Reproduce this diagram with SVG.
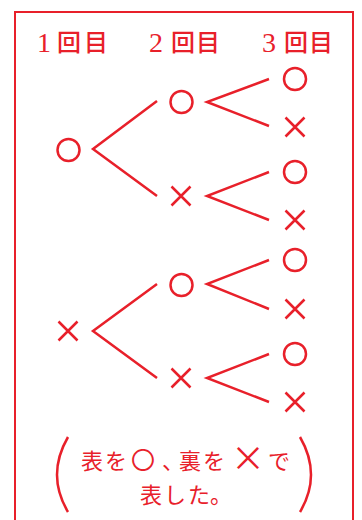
<svg xmlns="http://www.w3.org/2000/svg" width="362" height="520" viewBox="0 0 362 520">
<style>
.s{fill:none;stroke:#e8202a;stroke-width:2.5;stroke-linecap:butt}
.d{font-family:"Liberation Serif",serif;font-size:28px;fill:#e8202a}
.h{font-family:"Noto Sans CJK JP",sans-serif;font-size:24px;font-weight:500;fill:#e8202a}
.t{font-family:"Noto Sans CJK JP",sans-serif;font-size:22px;fill:#e8202a}
</style>
<defs>
<circle id="o" r="11" class="s"/>
<path id="x" d="M-9.5,-9.5L9.5,9.5M9.5,-9.5L-9.5,9.5" class="s"/>
</defs>
<rect x="15" y="12" width="338" height="530" fill="none" stroke="#e8202a" stroke-width="2"/>
<g id="headers">
<text class="d" x="37" y="52">1</text><text class="h" x="57 84" y="51">回目</text>
<text class="d" x="149" y="52">2</text><text class="h" x="171 196" y="51">回目</text>
<text class="d" x="262" y="52">3</text><text class="h" x="284 309" y="51">回目</text>
</g>
<g id="connectors">
<path class="s" d="M157,101L93,149L157,196"/>
<path class="s" d="M157,284L93,331L157,378"/>
<path class="s" d="M269,79L207,102L269,126"/>
<path class="s" d="M269,172L207,196L269,220"/>
<path class="s" d="M269,260L207,284L269,309"/>
<path class="s" d="M269,354L207,378L269,402"/>
</g>
<g id="n1o"><use href="#o" x="68.5" y="150"/></g>
<g id="n1x"><use href="#x" x="68" y="331"/></g>
<g id="n2o1"><use href="#o" x="181.5" y="102"/></g>
<g id="n2x1"><use href="#x" x="181" y="196"/></g>
<g id="n2o2"><use href="#o" x="181.5" y="285"/></g>
<g id="n2x2"><use href="#x" x="181" y="378"/></g>
<g id="n3o1"><use href="#o" x="295" y="79"/></g>
<g id="n3x1"><use href="#x" x="295" y="127"/></g>
<g id="n3o2"><use href="#o" x="295" y="172"/></g>
<g id="n3x2"><use href="#x" x="295" y="220"/></g>
<g id="n3o3"><use href="#o" x="295" y="260"/></g>
<g id="n3x3"><use href="#x" x="295" y="309"/></g>
<g id="n3o4"><use href="#o" x="295" y="354"/></g>
<g id="n3x4"><use href="#x" x="295" y="402"/></g>
<g id="note">
<path class="s" d="M68,437Q46,475 68,512"/>
<path class="s" d="M300,437Q322,475 300,512"/>
<text class="t" y="469"><tspan x="81 105">表を</tspan><tspan x="131" font-size="24">〇</tspan><tspan x="162 179 203">、裏を</tspan><tspan x="231" y="471" font-size="34">×</tspan><tspan x="268" y="469">で</tspan></text>
<text class="t" x="140 164 188 210" y="503">表した。</text>
</g>
</svg>
